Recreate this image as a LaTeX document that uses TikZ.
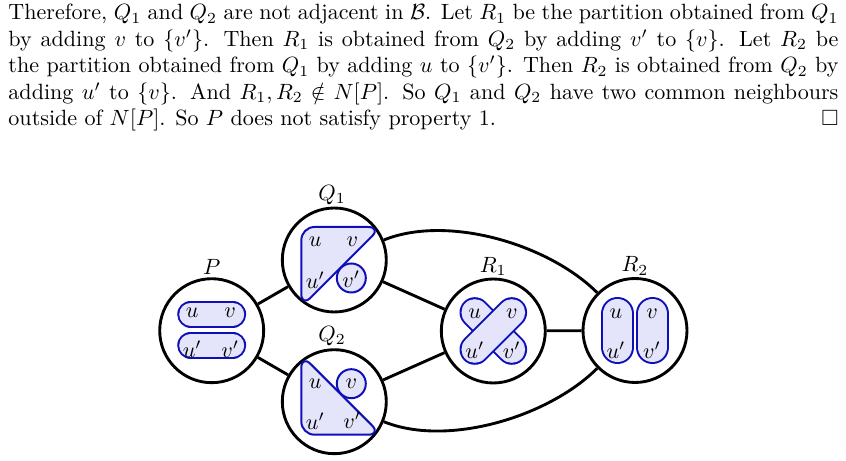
\documentclass[tikz,border=0pt]{standalone}
\usepackage{amssymb}
\definecolor{bluedark}{RGB}{15,15,185}
\definecolor{bluefill}{RGB}{228,228,250}
\begin{document}
\begin{tikzpicture}[x=0.4530pt,y=0.4530pt,
  state/.style={circle, draw, line width=1.3pt, minimum size=47.1pt, inner sep=0pt},
  lab/.style={inner sep=0pt},
  edge/.style={line width=1.3pt},
  blob/.style={draw=bluedark, fill=bluefill, line width=0.9pt},
  outerbar/.style={draw=bluedark, line cap=round},
  innerbar/.style={draw=bluefill, line cap=round}]
\useasboundingbox (0,0) rectangle (846,-461);

\node[anchor=base west, inner sep=0pt] (txt) at (8,-20) {\parbox[t]{376pt}{%
Therefore, $Q_1$ and $Q_2$ are not adjacent in $\mathcal{B}$. Let $R_1$ be the partition obtained from $Q_1$\linebreak{} by adding $v$ to $\{v'\}$. Then $R_1$ is obtained from $Q_2$ by adding $v'$ to $\{v\}$. Let $R_2$ be\linebreak{} the partition obtained from $Q_1$ by adding $u$ to $\{v'\}$. Then $R_2$ is obtained from $Q_2$ by\linebreak{} adding $u'$ to $\{v\}$. And $R_1,R_2\notin N[P]$. So $Q_1$ and $Q_2$ have two common neighbours\linebreak{} outside of $N[P]$. So $P$ does not satisfy property 1.\hfill$\square$}};

% circles
\node[state] (P)  at (211.7,-330.7) {};
\node[state] (Q1) at (334.3,-260) {};
\node[state] (Q2) at (334.3,-401.7) {};
\node[state] (R1) at (493.3,-331) {};
\node[state] (R2) at (635,-330.5) {};

% titles
\node[lab] (Pl)  at (211.7,-267.3) {$P$};
\node[lab] (Q1l) at (332,-195) {$Q_1$};
\node[lab] (Q2l) at (332,-336) {$Q_2$};
\node[lab] (R1l) at (493.3,-266.7) {$R_1$};
\node[lab] (R2l) at (635,-266) {$R_2$};

% edges
\draw[edge] (P) -- (Q1);
\draw[edge] (P) -- (Q2);
\draw[edge] (Q1) -- (R1);
\draw[edge] (Q2) -- (R1);
\draw[edge] (R1) -- (R2);
\draw[edge] (Q1) to[out=22, in=135, looseness=0.8] (R2);
\draw[edge] (Q2) to[out=-22, in=-135, looseness=0.8] (R2);

% P contents
\begin{scope}[shift={(P)}]
  \draw[outerbar, line width=12.2pt] (-21,16.5) -- (21,16.5);
  \draw[innerbar, line width=10.4pt] (-21,16.5) -- (21,16.5);
  \draw[outerbar, line width=12.2pt] (-21,-14.5) -- (21,-14.5);
  \draw[innerbar, line width=10.4pt] (-21,-14.5) -- (21,-14.5);
  \node[lab] (Pu)  at (-19.5,17.5) {$u$};
  \node[lab] (Pv)  at (18.5,17.5) {$v$};
  \node[lab] (Pu2) at (-19.5,-19) {$u'$};
  \node[lab] (Pv2) at (18.5,-19) {$v'$};
\end{scope}

% Q1 contents
\begin{scope}[shift={(Q1)}]
  \draw[blob, rounded corners=6pt] (-33,33) -- (47,33) -- (-33,-47) -- cycle;
  \draw[blob] (17,-18) circle[radius=6.57pt];
  \node[lab] (Q1u)  at (-19,18) {$u$};
  \node[lab] (Q1v)  at (18,18) {$v$};
  \node[lab] (Q1u2) at (-19,-20) {$u'$};
  \node[lab] (Q1v2) at (17,-19) {$v'$};
\end{scope}

% Q2 contents
\begin{scope}[shift={(Q2)}]
  \draw[blob, rounded corners=6pt] (-33,47) -- (-33,-33) -- (47,-33) -- cycle;
  \draw[blob] (17,18) circle[radius=6.57pt];
  \node[lab] (Q2u)  at (-19,18.4) {$u$};
  \node[lab] (Q2v)  at (17,18.4) {$v$};
  \node[lab] (Q2u2) at (-19,-20) {$u'$};
  \node[lab] (Q2v2) at (18,-18.3) {$v'$};
\end{scope}

% R1 contents
\begin{scope}[shift={(R1)}]
  \draw[outerbar, line width=13.86pt] (-18.5,18.5) -- (18.5,-18.5);
  \draw[innerbar, line width=12.06pt] (-18.5,18.5) -- (18.5,-18.5);
  \draw[outerbar, line width=13.86pt] (-18.5,-18.5) -- (18.5,18.5);
  \draw[innerbar, line width=12.06pt] (-18.5,-18.5) -- (18.5,18.5);
  \node[lab] (R1u)  at (-18.5,17.7) {$u$};
  \node[lab] (R1v)  at (18.5,17.7) {$v$};
  \node[lab] (R1u2) at (-18.5,-19) {$u'$};
  \node[lab] (R1v2) at (18.5,-19) {$v'$};
\end{scope}

% R2 contents
\begin{scope}[shift={(R2)}]
  \draw[outerbar, line width=15.26pt] (-17.5,16.65) -- (-17.5,-16.65);
  \draw[innerbar, line width=13.46pt] (-17.5,16.65) -- (-17.5,-16.65);
  \draw[outerbar, line width=15.26pt] (17.5,16.65) -- (17.5,-16.65);
  \draw[innerbar, line width=13.46pt] (17.5,16.65) -- (17.5,-16.65);
  \node[lab] (R2u)  at (-19,17) {$u$};
  \node[lab] (R2v)  at (17,17) {$v$};
  \node[lab] (R2u2) at (-19,-19.5) {$u'$};
  \node[lab] (R2v2) at (17,-19.5) {$v'$};
\end{scope}
\end{tikzpicture}
\end{document}
